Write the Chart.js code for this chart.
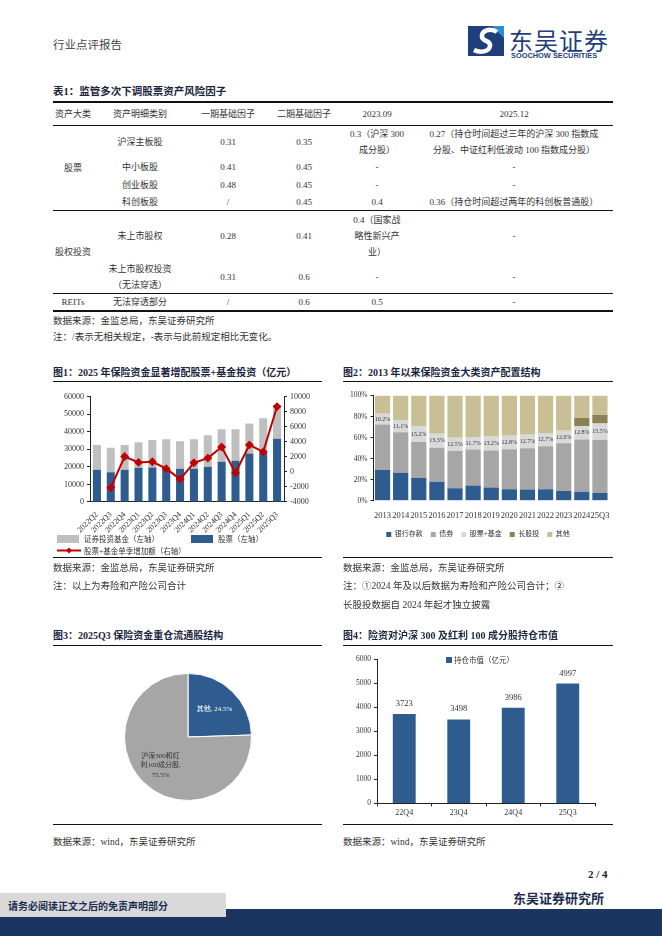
<!DOCTYPE html>
<html>
<head>
<meta charset="utf-8">
<script src="https://cdn.jsdelivr.net/npm/chart.js@4.4.1/dist/chart.umd.min.js"></script>
<style>
  body { margin:0; background:#fff; font-family:'Liberation Serif','Noto Sans CJK SC',serif; color:#222; }
  #page { position:relative; width:662px; height:936px; overflow:hidden; }
  .abs { position:absolute; }
  .ttl { font-weight:bold; font-size:10px; color:#1b2540; white-space:nowrap; }
  .note { font-size:9.5px; color:#333; white-space:nowrap; }
  .hline { position:absolute; height:0; border-top:1px solid #111; }
  table { border-collapse:collapse; table-layout:fixed; font-size:9px; color:#333; }
  td { text-align:center; vertical-align:middle; padding:0; line-height:16px; }
</style>
</head>
<body>
<div id="page">

  <!-- 页眉 -->
  <div class="abs" style="left:53px;top:36px;font-size:11.5px;color:#444;">行业点评报告</div>
  <svg class="abs" style="left:468px;top:26px" width="36" height="30" viewBox="0 0 36 30">
    <rect x="0" y="0" width="36" height="30" fill="#1f3f7a"/>
    <path d="M24 0 L36 0 L36 12 Z" fill="#2b8fd6"/>
    <path d="M29 6 C22 1 13 5 14 11 C15 16 23 14 22 20 C21 26 12 27 6 24" stroke="#fff" stroke-width="4.5" fill="none"/>
  </svg>
  <div class="abs" style="left:509px;top:26px;font-size:24px;color:#1f3f7a;font-family:'Noto Sans CJK SC';letter-spacing:1px;line-height:28px;">东吴证券</div>
  <div class="abs" style="left:511px;top:51px;font-size:7.4px;color:#1f3f7a;font-family:'Liberation Sans';font-weight:bold;">SOOCHOW SECURITIES</div>

  <!-- 表1 -->
  <div class="abs ttl" style="left:53px;top:83px;font-size:10.5px;">表1：监管多次下调股票资产风险因子</div>
  <div class="abs" style="left:53px;top:101px;">
    <table style="width:560px;">
      <colgroup><col style="width:40px"><col style="width:94px"><col style="width:82px"><col style="width:70px"><col style="width:76px"><col style="width:198px"></colgroup>
      <tr style="height:23px;border-top:2px solid #111;border-bottom:1px solid #111;">
        <td>资产大类</td><td>资产明细类别</td><td>一期基础因子</td><td>二期基础因子</td><td>2023.09</td><td>2025.12</td>
      </tr>
      <tr style="height:31px;">
        <td rowspan="4">股票</td><td>沪深主板股</td><td>0.31</td><td>0.35</td><td>0.3（沪深 300<br>成分股）</td><td>0.27（持仓时间超过三年的沪深 300 指数成<br>分股、中证红利低波动 100 指数成分股）</td>
      </tr>
      <tr style="height:18px;"><td>中小板股</td><td>0.41</td><td>0.45</td><td>-</td><td>-</td></tr>
      <tr style="height:18px;"><td>创业板股</td><td>0.48</td><td>0.45</td><td>-</td><td>-</td></tr>
      <tr style="height:17px;border-bottom:1px solid #111;"><td>科创板股</td><td>/</td><td>0.45</td><td>0.4</td><td>0.36（持仓时间超过两年的科创板普通股）</td></tr>
      <tr style="height:50px;">
        <td rowspan="2">股权投资</td><td>未上市股权</td><td>0.28</td><td>0.41</td><td>0.4（国家战<br>略性新兴产<br>业）</td><td>-</td>
      </tr>
      <tr style="height:31px;border-bottom:1px solid #111;"><td>未上市股权投资<br>（无法穿透）</td><td>0.31</td><td>0.6</td><td>-</td><td>-</td></tr>
      <tr style="height:16px;border-bottom:2px solid #111;"><td>REITs</td><td>无法穿透部分</td><td>/</td><td>0.6</td><td>0.5</td><td>-</td></tr>
    </table>
  </div>
  <div class="abs note" style="left:53px;top:313px;">数据来源：金监总局，东吴证券研究所</div>
  <div class="abs note" style="left:53px;top:329px;">注：/表示无相关规定，-表示与此前规定相比无变化。</div>

  <!-- 图1 / 图2 标题 -->
  <div class="abs ttl" style="left:53px;top:364px;">图1：2025 年保险资金显著增配股票+基金投资（亿元）</div>
  <div class="abs ttl" style="left:343px;top:364px;">图2：2013 年以来保险资金大类资产配置结构</div>
  <div class="hline" style="left:53px;width:269px;top:381px;"></div>
  <div class="hline" style="left:343px;width:270px;top:381px;"></div>

  <div class="abs" style="left:53px;top:389px;width:270px;height:146px;"><canvas id="c1"></canvas></div>
  <!-- 图1 图例 -->
  <div class="abs" style="left:57px;top:535px;width:22px;height:8px;background:#BFBFBF;"></div>
  <div class="abs note" style="left:84px;top:533px;font-size:7.5px;">证券投资基金（左轴）</div>
  <div class="abs" style="left:191px;top:535px;width:22px;height:8px;background:#2F5C8F;"></div>
  <div class="abs note" style="left:218px;top:533px;font-size:7.5px;">股票（左轴）</div>
  <svg class="abs" style="left:57px;top:546px" width="24" height="9"><line x1="0" y1="4.5" x2="24" y2="4.5" stroke="#C00000" stroke-width="2"/><path d="M12 1.5 L15 4.5 L12 7.5 L9 4.5 Z" fill="#C00000"/></svg>
  <div class="abs note" style="left:84px;top:545px;font-size:7.5px;">股票+基金单季增加额（右轴）</div>

  <div class="abs" style="left:343px;top:388px;width:272px;height:162px;"><canvas id="c2"></canvas></div>

  <div class="hline" style="left:53px;width:269px;top:557px;"></div>
  <div class="hline" style="left:343px;width:270px;top:557px;"></div>
  <div class="abs note" style="left:53px;top:560px;">数据来源：金监总局，东吴证券研究所</div>
  <div class="abs note" style="left:53px;top:578px;">注：以上为寿险和产险公司合计</div>
  <div class="abs note" style="left:343px;top:560px;">数据来源：金监总局，东吴证券研究所</div>
  <div class="abs note" style="left:343px;top:578px;">注：①2024 年及以后数据为寿险和产险公司合计；②</div>
  <div class="abs note" style="left:343px;top:597px;">长股投数据自 2024 年起才独立披露</div>

  <!-- 图3 / 图4 -->
  <div class="abs ttl" style="left:53px;top:627px;">图3：2025Q3 保险资金重仓流通股结构</div>
  <div class="abs ttl" style="left:343px;top:627px;">图4：险资对沪深 300 及红利 100 成分股持仓市值</div>
  <div class="hline" style="left:53px;width:269px;top:645px;"></div>
  <div class="hline" style="left:343px;width:270px;top:645px;"></div>

  <div class="abs" style="left:124px;top:673px;width:128px;height:128px;"><canvas id="c3"></canvas></div>

  <div class="abs" style="left:340px;top:652px;width:272px;height:168px;"><canvas id="c4"></canvas></div>
  <div class="abs" style="left:446px;top:657px;width:6px;height:6px;background:#2F5C8F;"></div>
  <div class="abs note" style="left:454px;top:654px;font-size:7.5px;">持仓市值（亿元）</div>

  <div class="hline" style="left:53px;width:269px;top:824px;"></div>
  <div class="hline" style="left:343px;width:270px;top:824px;"></div>
  <div class="abs note" style="left:53px;top:834px;">数据来源：wind，东吴证券研究所</div>
  <div class="abs note" style="left:343px;top:834px;">数据来源：wind，东吴证券研究所</div>

  <!-- 页脚 -->
  <div class="abs" style="left:588px;top:868px;font-size:11px;font-weight:bold;color:#222;">2 / 4</div>
  <div class="abs" style="left:513px;top:888px;font-size:13px;font-weight:bold;color:#1b2d4f;">东吴证券研究所</div>
  <div class="abs" style="left:0;top:909px;width:662px;height:27px;background:#1a3560;"></div>
  <div class="abs" style="left:0;top:893px;width:226px;height:24px;background:#d9d9d9;"></div>
  <div class="abs" style="left:8px;top:898px;font-size:10px;font-weight:bold;color:#1b2d4f;">请务必阅读正文之后的免责声明部分</div>
</div>

<script>
// 图1 数据（亿元）
const quarters = ['2022Q2','2022Q3','2022Q4','2023Q1','2023Q2','2023Q3','2023Q4','2024Q1','2024Q2','2024Q3','2024Q4','2025Q1','2025Q2','2025Q3'];
const stockVal = [18400, 16900, 18400, 19500, 19700, 19000, 19000, 19000, 20100, 22900, 23500, 27600, 28100, 36000];
const fundVal  = [14100, 14100, 14100, 14600, 15600, 16800, 15700, 16800, 18000, 18600, 18000, 17200, 19600, 19000];
const quarterAdd = [null, -2100, 2050, 1270, 1350, 440, -960, 1220, 1840, 3320, -130, 3590, 2670, 8700];

// 图2 数据（%）
const years = ['2013','2014','2015','2016','2017','2018','2019','2020','2021','2022','2023','2024','25Q3'];
const bankDep   = [29.2, 26.6, 21.7, 18.2, 11.8, 14.5, 12.7, 11.0, 10.8, 11.0, 9.2, 8.6, 7.5];
const bonds     = [43.3, 38.6, 34.1, 32.2, 35.5, 34.3, 35.1, 38.0, 39.2, 40.8, 45.4, 49.6, 50.4];
const stockFund = [10.2, 11.1, 15.2, 13.3, 12.5, 11.7, 13.2, 12.8, 12.7, 12.7, 12.0, 12.8, 15.5];
const longEq    = [0, 0, 0, 0, 0, 0, 0, 0, 0, 0, 0, 7.6, 8.1];
const others    = [17.3, 23.7, 29.0, 36.3, 40.2, 39.5, 39.0, 38.2, 37.3, 35.5, 33.4, 21.4, 18.5];

// 图3 数据
const pieLabels = ['其他', '沪深300和红利100成分股'];
const pieVals = [24.5, 75.5];

// 图4 数据（亿元）
const holdQ = ['22Q4','23Q4','24Q4','25Q3'];
const holdVal = [3723, 3498, 3986, 4997];

Chart.defaults.font.family = "'Liberation Serif','Noto Sans CJK SC',serif";
Chart.defaults.color = '#333';
Chart.defaults.animation = false;

const BLUE = '#2F5C8F';
const axisGrid = { drawOnChartArea: false, tickLength: 3, color: '#222' };
const plain = v => String(v);

new Chart(document.getElementById('c1'), {
  type: 'bar',
  data: {
    labels: quarters,
    datasets: [
      { type: 'line', label: '股票+基金单季增加额（右轴）', data: quarterAdd, yAxisID: 'y2',
        borderColor: '#C00000', backgroundColor: '#C00000', borderWidth: 2,
        pointStyle: 'rectRot', pointRadius: 3, order: 0 },
      { label: '股票（左轴）', data: stockVal, backgroundColor: BLUE, stack: 's', order: 1 },
      { label: '证券投资基金（左轴）', data: fundVal, backgroundColor: '#BFBFBF', stack: 's', order: 1 }
    ]
  },
  options: {
    responsive: true, maintainAspectRatio: false,
    layout: { padding: { left: 8, right: 10, top: 2 } },
    barPercentage: 0.58, categoryPercentage: 1,
    plugins: { legend: { display: false }, tooltip: { enabled: false } },
    scales: {
      x: { stacked: true, grid: { display: false }, border: { color: '#222' },
           ticks: { minRotation: 45, maxRotation: 45, autoSkip: false, font: { size: 8 }, padding: 0 } },
      y: { stacked: true, min: 0, max: 60000, grid: axisGrid, border: { color: '#222' },
           ticks: { stepSize: 10000, font: { size: 8 }, callback: plain } },
      y2: { position: 'right', min: -4000, max: 10000, grid: axisGrid, border: { color: '#222' },
            ticks: { stepSize: 2000, font: { size: 8 }, callback: plain } }
    }
  }
});

// 股票+基金 占比标签
const segLabels = {
  id: 'segLabels',
  afterDatasetsDraw(chart) {
    const ctx = chart.ctx;
    const meta = chart.getDatasetMeta(2);
    ctx.save();
    ctx.font = "6px 'Liberation Serif'";
    ctx.fillStyle = '#333';
    ctx.textAlign = 'center';
    ctx.textBaseline = 'middle';
    meta.data.forEach((bar, i) => {
      const mid = (bar.y + bar.base) / 2;
      ctx.fillText(stockFund[i].toFixed(1) + '%', bar.x, mid);
    });
    ctx.restore();
  }
};

new Chart(document.getElementById('c2'), {
  type: 'bar',
  data: {
    labels: years,
    datasets: [
      { label: '银行存款', data: bankDep, backgroundColor: BLUE },
      { label: '债券', data: bonds, backgroundColor: '#A6A6A6' },
      { label: '股票+基金', data: stockFund, backgroundColor: '#D9D9D9' },
      { label: '长股投', data: longEq, backgroundColor: '#8C8152' },
      { label: '其他', data: others, backgroundColor: '#C9BF94' }
    ]
  },
  options: {
    responsive: true, maintainAspectRatio: false,
    layout: { padding: { left: 4, right: 6, top: 3, bottom: 2 } },
    barPercentage: 0.84, categoryPercentage: 1,
    plugins: {
      legend: { position: 'bottom',
        labels: { boxWidth: 5, boxHeight: 5, font: { size: 7 }, padding: 8 } },
      tooltip: { enabled: false }
    },
    scales: {
      x: { stacked: true, grid: { display: false }, border: { display: false },
           ticks: { font: { size: 8.5 }, padding: 2, maxRotation: 0, autoSkip: false } },
      y: { stacked: true, min: 0, max: 100, grid: axisGrid, border: { color: '#222' },
           ticks: { stepSize: 10, font: { size: 7.5 }, callback: v => v + '%' } }
    }
  },
  plugins: [segLabels]
});

// 饼图标签
const pieText = {
  id: 'pieText',
  afterDatasetsDraw(chart) {
    const ctx = chart.ctx;
    const arcs = chart.getDatasetMeta(0).data;
    const lines = [['其他, 24.5%'], ['沪深300和红', '利100成分股,', '75.5%']];
    const colors = ['#fff', '#333'];
    const rf = [0.6, 0.62];
    ctx.save();
    ctx.font = "7px 'Liberation Serif','Noto Sans CJK SC'";
    ctx.textAlign = 'center';
    ctx.textBaseline = 'middle';
    arcs.forEach((a, i) => {
      const ang = (a.startAngle + a.endAngle) / 2;
      const r = a.outerRadius * rf[i];
      const cx = a.x + Math.cos(ang) * r;
      const cy = a.y + Math.sin(ang) * r;
      ctx.fillStyle = colors[i];
      const ls = lines[i];
      ls.forEach((t, k) => ctx.fillText(t, cx, cy + (k - (ls.length - 1) / 2) * 9.5));
    });
    ctx.restore();
  }
};

new Chart(document.getElementById('c3'), {
  type: 'pie',
  data: { labels: pieLabels, datasets: [{ data: pieVals, backgroundColor: [BLUE, '#A6A6A6'], borderColor: '#fff', borderWidth: 1 }] },
  options: {
    responsive: true, maintainAspectRatio: false,
    plugins: { legend: { display: false }, tooltip: { enabled: false } }
  },
  plugins: [pieText]
});

// 柱顶数值
const barValues = {
  id: 'barValues',
  afterDatasetsDraw(chart) {
    const ctx = chart.ctx;
    ctx.save();
    ctx.font = "8.5px 'Liberation Serif'";
    ctx.fillStyle = '#333';
    ctx.textAlign = 'center';
    ctx.textBaseline = 'bottom';
    chart.getDatasetMeta(0).data.forEach((bar, i) => {
      ctx.fillText(holdVal[i], bar.x, bar.y - 6);
    });
    ctx.restore();
  }
};

new Chart(document.getElementById('c4'), {
  type: 'bar',
  data: { labels: holdQ, datasets: [{ label: '持仓市值（亿元）', data: holdVal, backgroundColor: BLUE }] },
  options: {
    responsive: true, maintainAspectRatio: false,
    layout: { padding: { left: 13, right: 17, top: 3 } },
    barPercentage: 0.42, categoryPercentage: 1,
    plugins: { legend: { display: false }, tooltip: { enabled: false } },
    scales: {
      x: { grid: { drawOnChartArea: false, tickLength: 3, color: '#222', offset: true }, border: { color: '#222' },
           ticks: { font: { size: 8 }, padding: 2 } },
      y: { min: 0, max: 6000, grid: axisGrid, border: { color: '#222' },
           ticks: { stepSize: 1000, font: { size: 7.5 }, callback: plain } }
    }
  },
  plugins: [barValues]
});
</script>
</body>
</html>
